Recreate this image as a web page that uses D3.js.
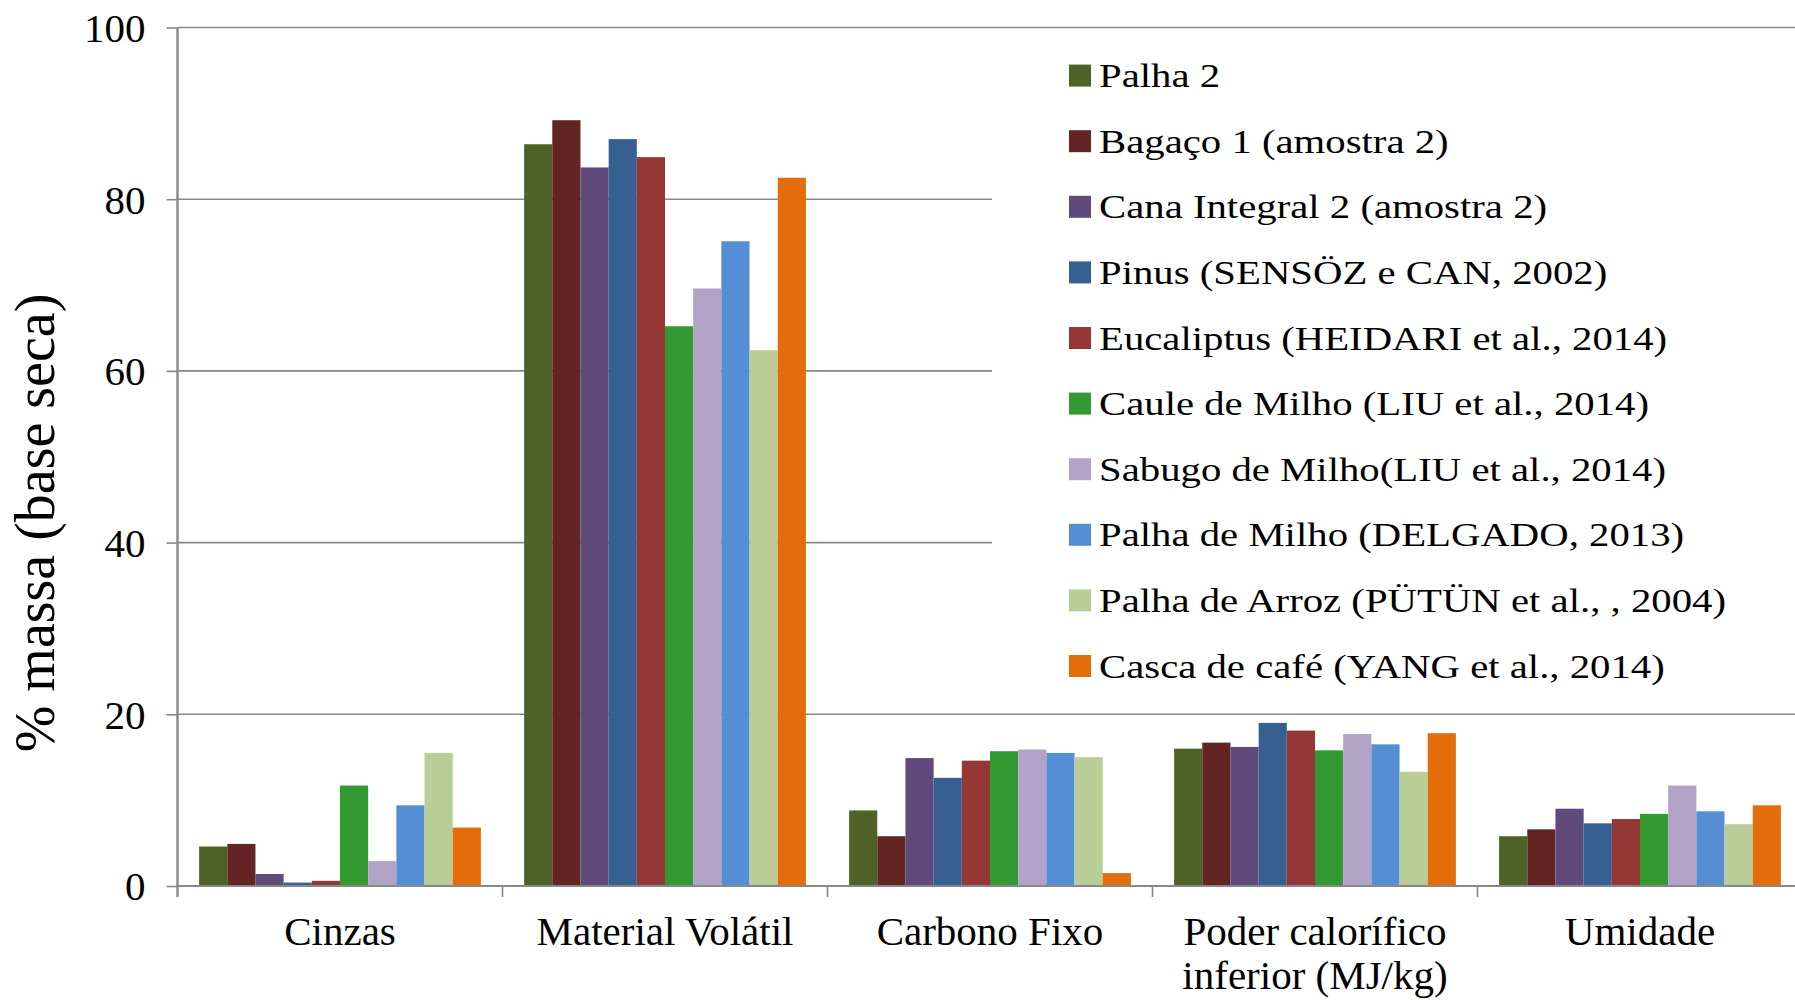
<!DOCTYPE html>
<html>
<head>
<meta charset="utf-8">
<script src="https://cdn.jsdelivr.net/npm/d3@7"></script>
<style>
  html, body { margin: 0; padding: 0; background: #ffffff; }
  svg { display: block; }
  text { font-family: "Liberation Serif", "Times New Roman", serif; fill: #000; }
</style>
</head>
<body>
<script>
// ---- Data ----
const categories = ["Cinzas", "Material Volátil", "Carbono Fixo", "Poder calorífico\ninferior (MJ/kg)", "Umidade"];
const seriesNames = [
  "Palha 2",
  "Bagaço 1 (amostra 2)",
  "Cana Integral 2 (amostra 2)",
  "Pinus (SENSÖZ e CAN, 2002)",
  "Eucaliptus (HEIDARI et al., 2014)",
  "Caule de Milho (LIU et al., 2014)",
  "Sabugo de Milho(LIU et al., 2014)",
  "Palha de Milho (DELGADO, 2013)",
  "Palha de Arroz (PÜTÜN et al., , 2004)",
  "Casca de café (YANG et al., 2014)"
];
const seriesColors = ["#4F6228", "#632523", "#604A7B", "#376092", "#953735", "#339933", "#B3A2C7", "#558ED5", "#B9CD96", "#E46C0A"];
// values per series, in category order
const palha2      = [4.6, 86.4, 8.8, 16.0, 5.8];
const bagaco1     = [4.9, 89.2, 5.8, 16.7, 6.6];
const canaInt2    = [1.4, 83.7, 14.9, 16.2, 9.0];
const pinus       = [0.4, 87.0, 12.6, 19.0, 7.3];
const eucaliptus  = [0.6, 84.9, 14.6, 18.1, 7.8];
const cauleMilho  = [11.7, 65.2, 15.7, 15.8, 8.4];
const sabugoMilho = [2.9, 69.6, 15.9, 17.7, 11.7];
const palhaMilho  = [9.4, 75.1, 15.5, 16.5, 8.7];
const palhaArroz  = [15.5, 62.4, 15.0, 13.3, 7.2];
const cascaCafe   = [6.8, 82.5, 1.5, 17.8, 9.4];
const seriesValues = [palha2, bagaco1, canaInt2, pinus, eucaliptus, cauleMilho, sabugoMilho, palhaMilho, palhaArroz, cascaCafe];
const yTicks = [0, 20, 40, 60, 80, 100];
const yTitle = "% massa (base seca)";

// ---- Layout ----
const W = 1795, H = 1000;
const pLeft = 177.5, pRight = 1802.5, pTop = 27.5, pBottom = 886;

const svg = d3.select("body").append("svg").attr("width", W).attr("height", H);

const x0 = d3.scaleBand().domain(categories).range([pLeft, pRight]).padding(0);
const bw = x0.bandwidth();
const x1 = d3.scaleBand().domain(seriesNames).range([bw * 0.0665, bw * (1 - 0.0665)]).padding(0);
const y = d3.scaleLinear().domain([0, 100]).range([pBottom, pTop]);

// gridlines
svg.append("g").selectAll("line").data(yTicks.filter(d => d > 0)).join("line")
  .attr("x1", pLeft).attr("x2", W).attr("y1", d => y(d)).attr("y2", d => y(d))
  .attr("stroke", "#888").attr("stroke-width", 1.6);

// legend background (covers gridlines)
const legendX = 992, legendY = 30, legendH = 682;
svg.append("rect").attr("x", legendX).attr("y", legendY).attr("width", W - legendX).attr("height", legendH).attr("fill", "#fff");

// bars
const groups = svg.append("g").selectAll("g").data(categories).join("g")
  .attr("transform", d => `translate(${x0(d)},0)`);
groups.selectAll("rect").data((c, ci) => seriesNames.map((s, si) => ({ s, si, v: seriesValues[si][ci] })))
  .join("rect")
  .attr("x", d => x1(d.s)).attr("width", x1.bandwidth())
  .attr("y", d => y(d.v)).attr("height", d => y(0) - y(d.v))
  .attr("fill", d => seriesColors[d.si]);

// y axis
const yAxis = d3.axisLeft(y).tickValues(yTicks).tickSize(11).tickPadding(21).tickFormat(d3.format("d"));
const ya = svg.append("g").attr("transform", `translate(${pLeft},0)`).call(yAxis);
ya.select(".domain").attr("stroke", "#888").attr("stroke-width", 2.4).attr("d", `M0,${pTop}V${pBottom + 11}`);
ya.selectAll(".tick line").attr("stroke", "#888").attr("stroke-width", 1.6);
ya.selectAll(".tick text").attr("font-family", "Liberation Serif").attr("font-size", 41).attr("fill", "#000").attr("dy", "0.34em");

// x axis
const xa = svg.append("g").attr("transform", `translate(0,${pBottom})`);
xa.append("line").attr("x1", pLeft).attr("x2", W).attr("y1", 0).attr("y2", 0).attr("stroke", "#888").attr("stroke-width", 2);
const bounds = categories.map(c => x0(c)).concat([pRight]).filter(v => v > pLeft + 1 && v < W);
xa.selectAll("line.tk").data(bounds).join("line").attr("class", "tk")
  .attr("x1", d => d).attr("x2", d => d).attr("y1", 0).attr("y2", 11)
  .attr("stroke", "#888").attr("stroke-width", 1.6);
const labels = xa.selectAll("text.cat").data(categories).join("text").attr("class", "cat")
  .attr("text-anchor", "middle").attr("font-size", 41)
  .attr("transform", d => `translate(${x0(d) + bw / 2},0)`);
labels.selectAll("tspan").data(d => d.split("\n")).join("tspan")
  .attr("x", 0).attr("y", (d, i) => 59 + i * 44).text(d => d);

// y title
svg.append("text").attr("text-anchor", "middle").attr("font-size", 56)
  .attr("transform", `translate(54,523) rotate(-90)`).text(yTitle);

// legend
const lg = svg.append("g");
const rowY0 = 75.6, rowStep = 65.6;
const items = lg.selectAll("g").data(seriesNames).join("g")
  .attr("transform", (d, i) => `translate(1069,${rowY0 + i * rowStep})`);
items.append("rect").attr("x", 0).attr("y", -11).attr("width", 22).attr("height", 22)
  .attr("fill", (d, i) => seriesColors[i]);
items.append("text").attr("font-size", 33).attr("dy", "0.35em")
  .attr("transform", "translate(30,0) scale(1.235,1)").text(d => d);
</script>
</body>
</html>
